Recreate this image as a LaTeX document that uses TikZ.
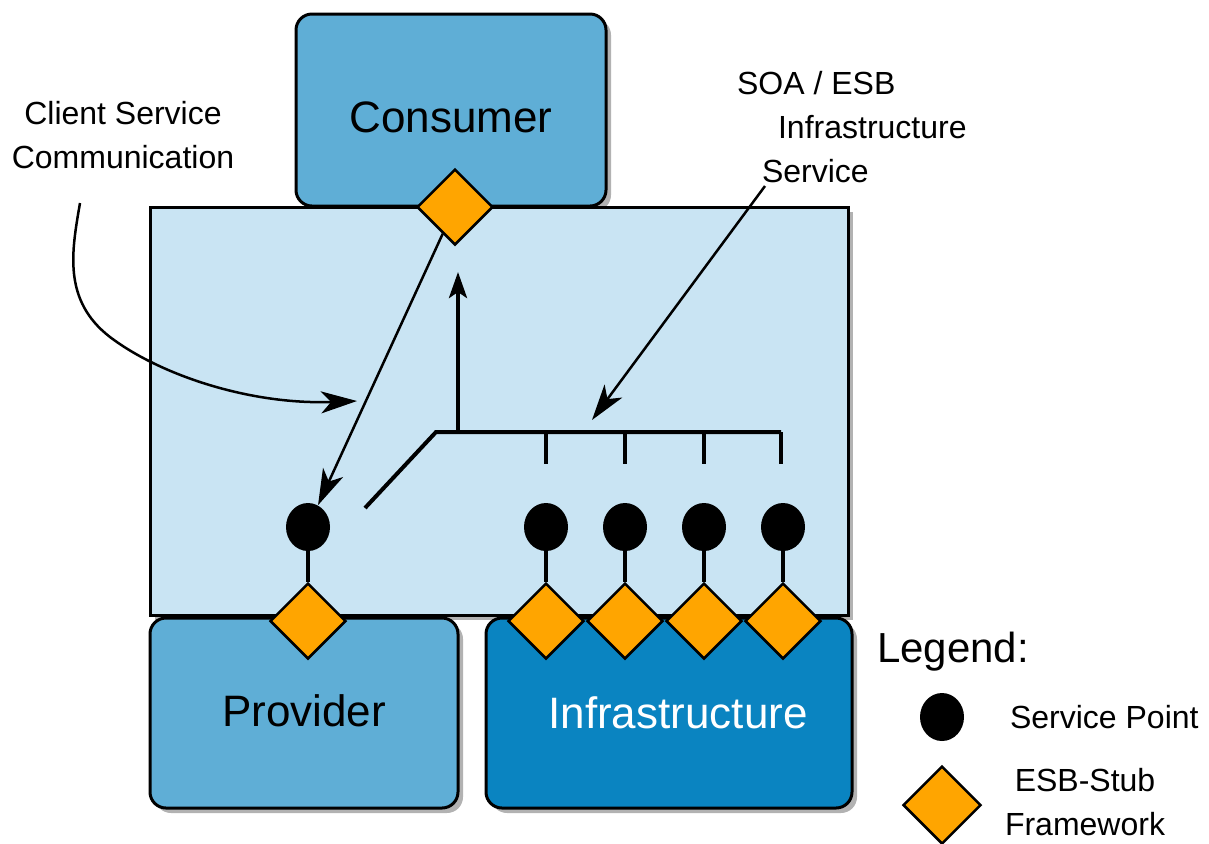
\documentclass[tikz,border=0pt]{standalone}
\usepackage{fontspec}
\setmainfont{Liberation Sans}
\usetikzlibrary{shapes.geometric,shadows,arrows.meta}

\newlength{\du}
\setlength{\du}{0.5pt}

\definecolor{consumercolor}{rgb}{0.373, 0.682, 0.839}
\definecolor{buscolor}{rgb}{0.788, 0.894, 0.953}
\definecolor{infracolor}{rgb}{0.039, 0.518, 0.757}
\definecolor{stubcolor}{rgb}{1.000, 0.647, 0.000}

\tikzset{
  partbox/.style={rectangle, draw=black, line width=3\du, rounded corners=16\du,
    drop shadow={shadow xshift=5\du, shadow yshift=-5\du, opacity=0.3, fill=black}},
  busbox/.style={rectangle, draw=black, fill=buscolor, line width=3\du,
    drop shadow={shadow xshift=5\du, shadow yshift=-5\du, opacity=0.3, fill=black}},
  stub/.style={diamond, draw=black, fill=stubcolor, line width=2.5\du, inner sep=0pt,
    minimum width=76\du, minimum height=76\du},
  servicepoint/.style={ellipse, fill=black, inner sep=0pt, minimum width=44\du, minimum height=48\du},
  busline/.style={line width=4\du},
  callout/.style={line width=2.5\du, -{Stealth[length=18pt, width=11pt, inset=5pt]}},
  bigtext/.style={font=\fontsize{22}{26}\selectfont},
  smalltext/.style={font=\fontsize{16}{22}\selectfont},
}

\begin{document}
\begin{tikzpicture}
\pgftransformxscale{1.000000}
\pgftransformyscale{-1.000000}
\useasboundingbox (0\du,0\du) rectangle (1209\du,843\du);
% boxes
\node[partbox, bigtext, fill=consumercolor, minimum width=310\du, minimum height=192\du, text height=22pt, text depth=0pt] (consumer) at (451\du,110\du){Consumer};
\node[busbox, minimum width=698\du, minimum height=408\du] (bus) at (499\du,411\du){};
\node[partbox, bigtext, fill=consumercolor, minimum width=308\du, minimum height=190\du, text height=16pt, text depth=3pt] (provider) at (304\du,713\du){Provider};
\node[partbox, bigtext, fill=infracolor, text=white, minimum width=366\du, minimum height=190\du] (infra) at (669\du,713\du){\hspace*{18\du}Infrastructure};
% stubs
\node[stub] (consumerstub) at (455\du,207\du){};
\node[stub] (providerstub) at (308\du,621\du){};
\foreach \x [count=\i] in {546,625,704,783}
  \node[stub] (infrastub\i) at (\x\du,621\du){};
% service points
\node[servicepoint] (providerpoint) at (308\du,527\du){};
\draw[busline] (providerpoint) -- (providerstub);
\foreach \x [count=\i] in {546,625,704,783}
{
  \node[servicepoint] (infrapoint\i) at (\x\du,527\du){};
  \draw[busline] (infrapoint\i) -- (infrastub\i);
}
% bus
\coordinate (busstart) at (365\du,508\du);
\coordinate (busknee) at (436\du,432\du);
\coordinate (busend) at (781\du,432\du);
\draw[busline] (busstart)--(busknee)--(busend);
\foreach \x in {546,625,704,781}
  \draw[busline] (\x\du,432\du)--(\x\du,464\du);
\coordinate (bustap) at (458\du,432\du);
\coordinate (bustip) at (458\du,272\du);
\draw[busline, -{Stealth[length=13pt, width=9pt, inset=3pt]}] (bustap)--(bustip);
\draw[callout] (consumerstub)--(providerpoint);
% labels
\node[smalltext, align=center] (clientlabel) at (123\du,135\du){Client Service\\Communication};
\coordinate (clienttail) at (80\du,203\du);
\coordinate (clienttip) at (357\du,401\du);
\draw[callout] (clienttail) .. controls (72\du,250\du) and (62\du,300\du) .. (110\du,337\du) .. controls (160\du,375\du) and (250\du,405\du) .. (clienttip);
\node[smalltext, anchor=west, align=left] (soalabel) at (730\du,127\du){SOA / ESB\\\hspace*{41\du}Infrastructure\\\hspace*{25\du}Service};
\coordinate (soatail) at (765\du,186\du);
\coordinate (soatip) at (592\du,420\du);
\draw[callout] (soatail)--(soatip);
% legend
\node[anchor=west, font=\fontsize{21}{25}\selectfont] (legend) at (870\du,652\du){Legend:};
\node[servicepoint] (legendpoint) at (942\du,717\du){};
\node[smalltext, anchor=west] (legendpointtext) at (1003\du,717\du){Service Point};
\node[stub, minimum width=78\du, minimum height=78\du] (legendstub) at (942\du,805\du){};
\node[smalltext, align=center] (legendstubtext) at (1085\du,802\du){ESB-Stub\\Framework};
\end{tikzpicture}
\end{document}
